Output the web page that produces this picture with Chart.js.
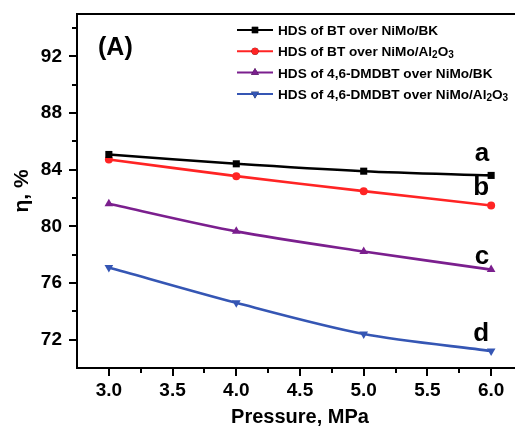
<!DOCTYPE html>
<html>
<head>
<meta charset="utf-8">
<script src="https://cdn.jsdelivr.net/npm/chart.js@4/dist/chart.umd.min.js"></script>
<style>
  html, body { margin: 0; padding: 0; background: #fff; overflow: hidden; }
  #wrap { width: 540px; height: 427px; }
</style>
</head>
<body>
<div id="wrap"><canvas id="c" width="540" height="427"></canvas></div>
<script>
// ---- data ----
const pressure = [3.0, 4.0, 5.0, 6.0];
const btBK      = [85.08, 84.42, 83.90, 83.60];
const btAl2O3   = [84.73, 83.55, 82.49, 81.48];
const dmdbtBK   = [81.60, 79.65, 78.23, 76.95];
const dmdbtAl2O3= [77.10, 74.60, 72.40, 71.20];
const xTickLabels = [3.0, 3.5, 4.0, 4.5, 5.0, 5.5, 6.0];
const yTickLabels = [72, 76, 80, 84, 88, 92];
const curveLabels = ['a', 'b', 'c', 'd'];
const legendTexts = [
  [['HDS of BT over NiMo/BK', false]],
  [['HDS of BT over NiMo/Al', false], ['2', true], ['O', false], ['3', true]],
  [['HDS of 4,6-DMDBT over NiMo/BK', false]],
  [['HDS of 4,6-DMDBT over NiMo/Al', false], ['2', true], ['O', false], ['3', true]]
];

const colors = ['#000000', '#ff2424', '#7b1f8e', '#3556b4'];
const styles = [
  {pointStyle: 'rect', pointRadius: 5, rotation: 0},
  {pointStyle: 'circle', pointRadius: 4, rotation: 0},
  {pointStyle: 'triangle', pointRadius: 5, rotation: 0},
  {pointStyle: 'triangle', pointRadius: 5, rotation: 180}
];
const series = [btBK, btAl2O3, dmdbtBK, dmdbtAl2O3];

const datasets = series.map((s, i) => ({
  label: 'series' + i,
  data: pressure.map((x, j) => ({x: x, y: s[j]})),
  borderColor: colors[i],
  backgroundColor: colors[i],
  borderWidth: 2.6,
  pointStyle: styles[i].pointStyle,
  pointRadius: styles[i].pointRadius,
  pointRotation: styles[i].rotation,
  pointBorderWidth: 0,
  pointHoverRadius: styles[i].pointRadius,
  tension: 0.3,
  fill: false
}));

const FONT = '"Liberation Sans", Arial, sans-serif';

const decor = {
  id: 'decor',
  afterDatasetsDraw(chart) {
    const ctx = chart.ctx;
    const xs = chart.scales.x, ys = chart.scales.y;
    const ca = chart.chartArea;
    ctx.save();
    // frame top & right
    ctx.strokeStyle = '#000';
    ctx.lineWidth = 2;
    ctx.beginPath();
    ctx.moveTo(ca.left, ca.top);
    ctx.lineTo(ca.right, ca.top);
    ctx.lineTo(ca.right, ca.bottom);
    ctx.stroke();
    // ticks
    ctx.beginPath();
    const yStep = yTickLabels[1] - yTickLabels[0];
    for (let v = yTickLabels[0] - yStep / 2; v <= ys.max; v += yStep / 2) {
      const major = yTickLabels.some(t => Math.abs(t - v) < 1e-6);
      const py = Math.round(ys.getPixelForValue(v));
      if (py >= ca.bottom - 1) continue;
      ctx.moveTo(ca.left, py);
      ctx.lineTo(ca.left - (major ? 8 : 5), py);
    }
    const xStep = xTickLabels[1] - xTickLabels[0];
    for (let v = xTickLabels[0] - xStep / 2; v <= xs.max + 1e-6; v += xStep / 2) {
      const major = xTickLabels.some(t => Math.abs(t - v) < 1e-6);
      const px = Math.round(xs.getPixelForValue(v));
      if (px <= ca.left + 1) continue;
      ctx.moveTo(px, ca.bottom);
      ctx.lineTo(px, ca.bottom + (major ? 8 : 5));
    }
    ctx.stroke();

    // (A)
    ctx.fillStyle = '#000';
    ctx.font = 'bold 25px ' + FONT;
    ctx.textAlign = 'left';
    ctx.textBaseline = 'alphabetic';
    ctx.fillText('(A)', 98, 55);

    // curve labels a-d
    const offs = [-14, -10, -6, -10];
    ctx.font = 'bold 26px ' + FONT;
    ctx.textAlign = 'right';
    series.forEach((s, i) => {
      const px = xs.getPixelForValue(pressure[pressure.length - 1]);
      const py = ys.getPixelForValue(s[s.length - 1]);
      ctx.fillText(curveLabels[i], px - 2, py + offs[i]);
    });

    // legend
    const lx0 = 237, lx1 = 273, tx = 278, rowTop = 30, rowGap = 21.3;
    ctx.textAlign = 'left';
    legendTexts.forEach((parts, i) => {
      const cy = rowTop + i * rowGap;
      ctx.strokeStyle = colors[i];
      ctx.lineWidth = 2;
      ctx.beginPath();
      ctx.moveTo(lx0, cy);
      ctx.lineTo(lx1, cy);
      ctx.stroke();
      Chart.helpers.drawPoint(ctx, {
        pointStyle: styles[i].pointStyle,
        rotation: styles[i].rotation,
        radius: styles[i].pointRadius - 0.5,
        borderWidth: 0
      }, (lx0 + lx1) / 2, cy);
      ctx.fillStyle = colors[i];
      ctx.fill();
      ctx.fillStyle = '#000';
      let x = tx;
      parts.forEach(([t, sub]) => {
        ctx.font = (sub ? 'bold 10px ' : 'bold 13.6px ') + FONT;
        ctx.fillText(t, x, cy + 5 + (sub ? 2 : 0));
        x += ctx.measureText(t).width;
      });
    });
    ctx.restore();
  }
};

new Chart(document.getElementById('c'), {
  type: 'line',
  data: { datasets },
  plugins: [decor],
  options: {
    responsive: false,
    animation: false,
    layout: { padding: { top: 14, right: 17, left: 0, bottom: 0 } },
    plugins: { legend: { display: false }, tooltip: { enabled: false } },
    scales: {
      x: {
        type: 'linear',
        min: 2.75, max: 6.25,
        afterFit(s) { s.height = 59; s.paddingLeft = 0; s.paddingRight = 0; },
        grid: { display: false, drawTicks: false },
        border: { display: true, color: '#000', width: 2 },
        ticks: {
          stepSize: 0.25,
          autoSkip: false,
          maxRotation: 0,
          padding: 11,
          color: '#000',
          font: { family: FONT, size: 19, weight: 'bold' },
          callback(v) {
            return xTickLabels.some(t => Math.abs(t - v) < 1e-6) ? Number(v).toFixed(1) : '';
          }
        },
        title: {
          display: true,
          text: 'Pressure, MPa',
          color: '#000',
          font: { family: FONT, size: 20, weight: 'bold', lineHeight: 1 },
          padding: { top: 0, bottom: 0 }
        }
      },
      y: {
        type: 'linear',
        min: 70, max: 95,
        afterFit(s) { s.width = 77; s.paddingTop = 0; s.paddingBottom = 0; },
        grid: { display: false, drawTicks: false },
        border: { display: true, color: '#000', width: 2 },
        ticks: {
          stepSize: 2,
          autoSkip: false,
          padding: 15,
          color: '#000',
          font: { family: FONT, size: 19, weight: 'bold' },
          callback(v) {
            return yTickLabels.some(t => Math.abs(t - v) < 1e-6) ? String(v) : '';
          }
        },
        title: {
          display: true,
          text: 'η, %',
          color: '#000',
          font: { family: FONT, size: 21, weight: 'bold', lineHeight: 1 },
          padding: { top: 12, bottom: 0 }
        }
      }
    }
  }
});
</script>
</body>
</html>
